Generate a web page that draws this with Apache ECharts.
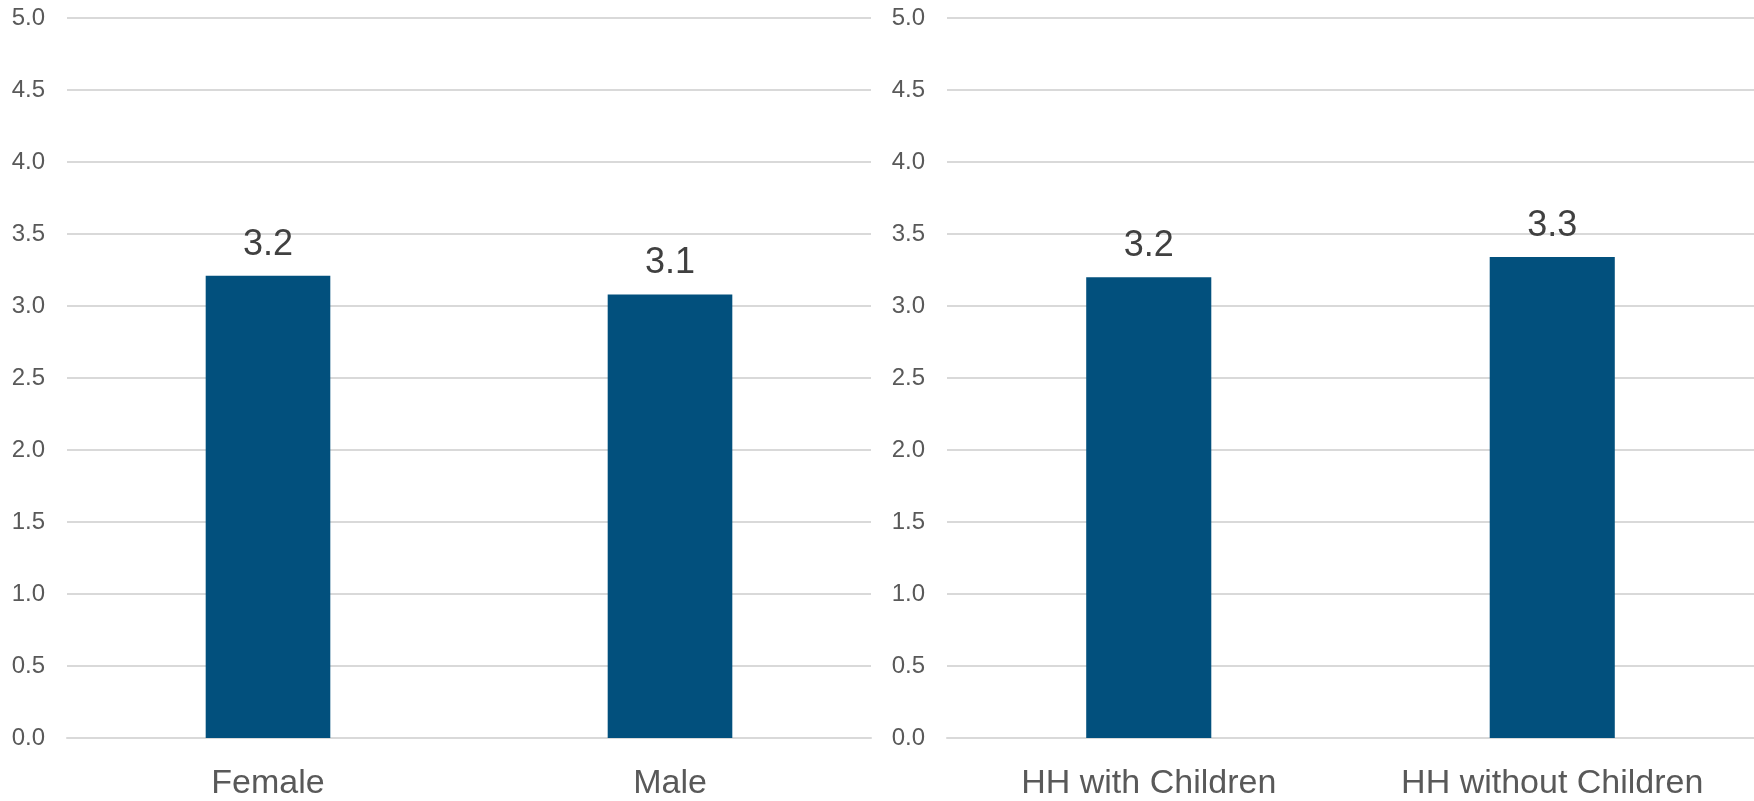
<!DOCTYPE html>
<html>
<head>
<meta charset="utf-8">
<script src="https://cdn.jsdelivr.net/npm/echarts@6/dist/echarts.min.js"></script>
<style>
html,body{margin:0;padding:0;background:#fff;}
#c{width:1754px;height:801px;}
</style>
</head>
<body>
<div id="c"></div>
<script>
const categoriesLeft = ['Female', 'Male'];
const valuesLeft = [3.21, 3.08];
const categoriesRight = ['HH with Children', 'HH without Children'];
const valuesRight = [3.20, 3.34];
const yMin = 0, yMax = 5, yStep = 0.5;

const font = '"Liberation Sans", Arial, sans-serif';
const barColor = '#02507D';
const gridColor = '#D9D9D9';

function xAxis(gi, cats) {
  return {
    type: 'category', gridIndex: gi, data: cats,
    axisLine: {show: true, lineStyle: {color: gridColor, width: 2}},
    axisTick: {show: false},
    axisLabel: {color: '#595959', fontSize: 34, fontFamily: font, margin: 29}
  };
}
function yAxis(gi) {
  return {
    type: 'value', gridIndex: gi, min: yMin, max: yMax, interval: yStep,
    axisLine: {show: false}, axisTick: {show: false},
    splitLine: {lineStyle: {color: gridColor, width: 2}},
    axisLabel: {color: '#595959', fontSize: 24, fontFamily: font, margin: 22,
      formatter: v => v.toFixed(1)}
  };
}
function series(gi, vals) {
  return {
    type: 'bar', xAxisIndex: gi, yAxisIndex: gi, data: vals,
    barWidth: '31%',
    itemStyle: {color: barColor},
    label: {show: true, position: 'top', distance: 13, color: '#404040',
      fontSize: 36, fontFamily: font, formatter: p => p.value.toFixed(1)},
    animation: false
  };
}

const chart = echarts.init(document.getElementById('c'));
chart.setOption({
  animation: false,
  backgroundColor: '#fff',
  grid: [
    {left: 67, top: 18, width: 804, height: 722},
    {left: 947, top: 18, width: 816, height: 722}
  ],
  xAxis: [xAxis(0, categoriesLeft), xAxis(1, categoriesRight)],
  yAxis: [yAxis(0), yAxis(1)],
  series: [series(0, valuesLeft), series(1, valuesRight)]
});
</script>
</body>
</html>
